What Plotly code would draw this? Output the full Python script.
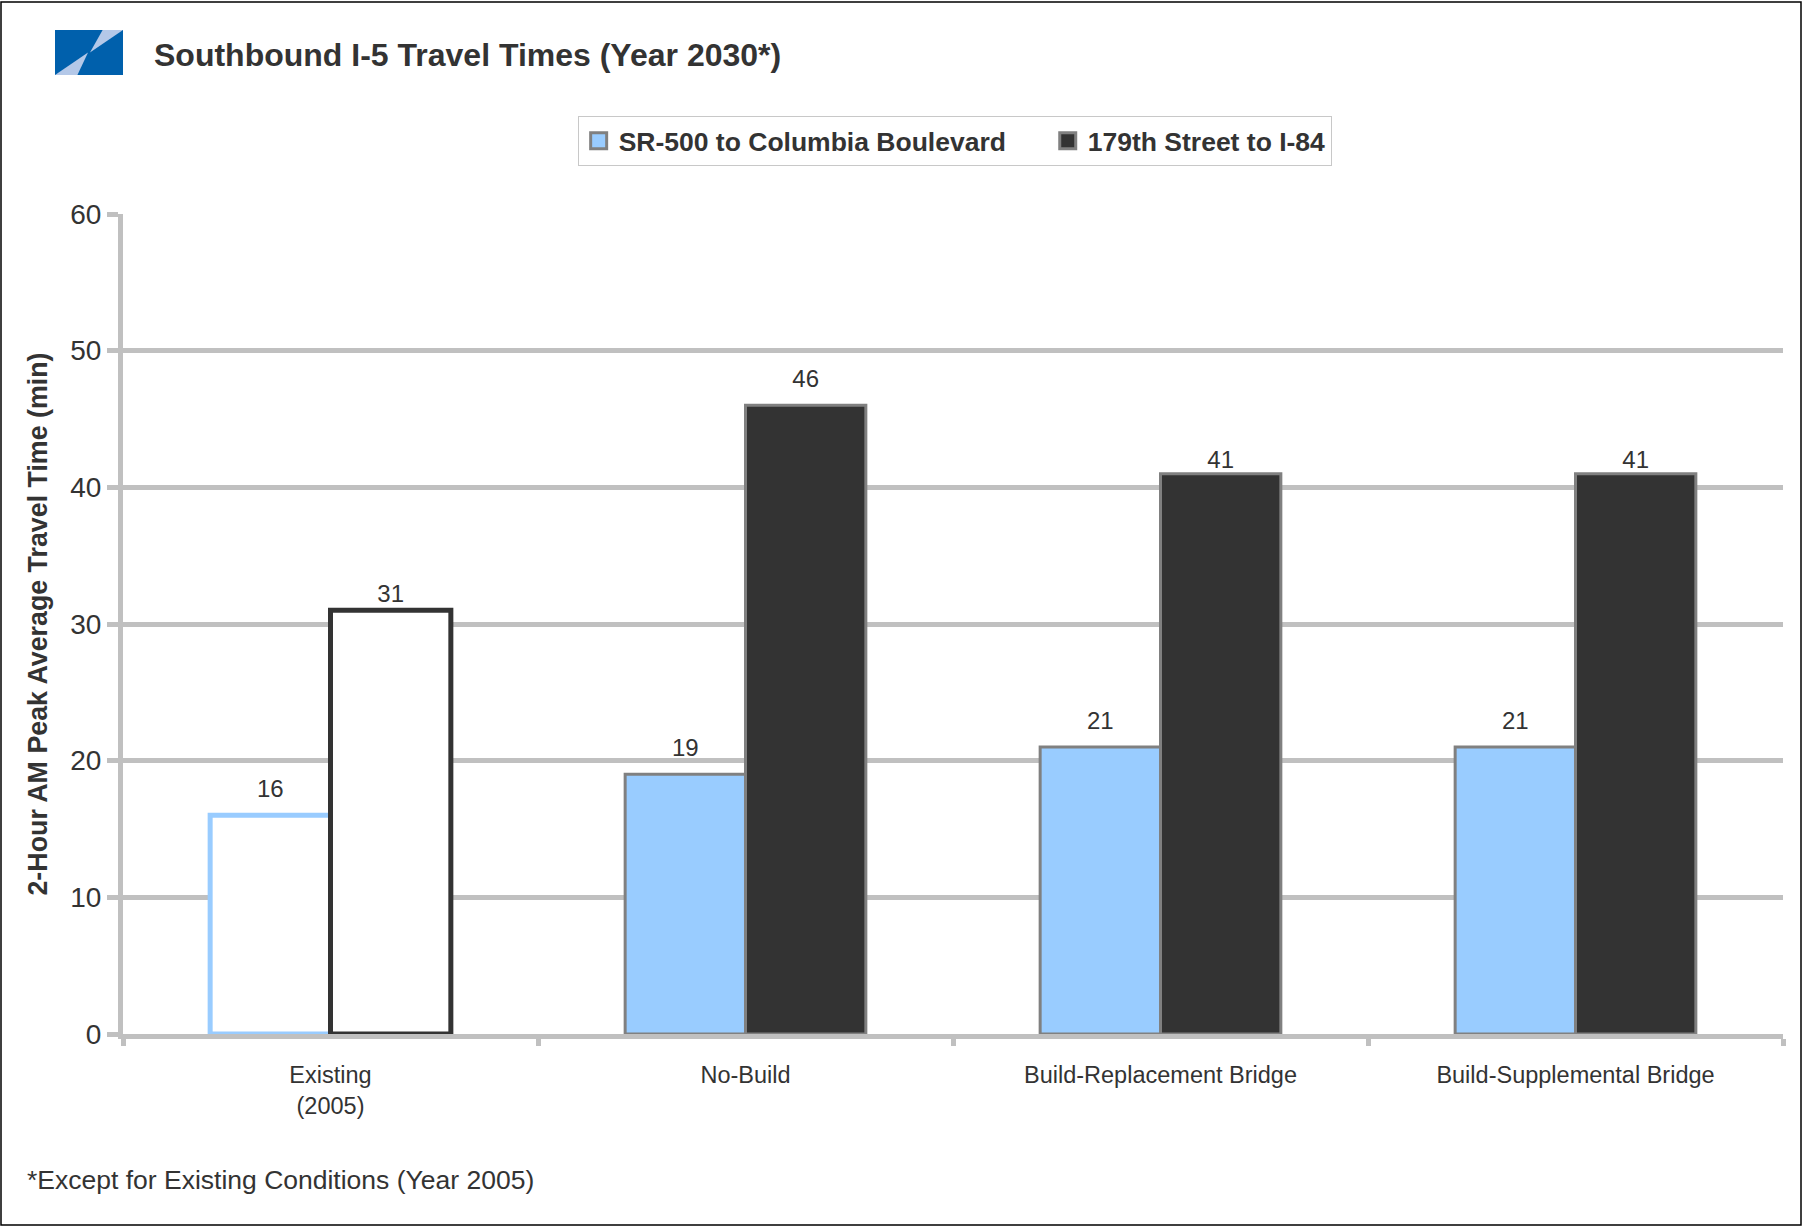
import plotly.graph_objects as go

categories = ["Existing<br>(2005)", "No-Build", "Build-Replacement Bridge", "Build-Supplemental Bridge"]
sr500_to_columbia = [16, 19, 21, 21]
st179_to_i84 = [31, 46, 41, 41]
series_names = ["SR-500 to Columbia Boulevard", "179th Street to I-84"]
y_ticks = [0, 10, 20, 30, 40, 50, 60]

W, H = 1803, 1227
L, R, T, B = 123, 20, 214, 193
PW, PH = W - L - R, H - T - B


def px(x):
    return (x - L) / PW


def py(y):
    return (H - B - y) / PH


SANS = "Liberation Sans, Arial, sans-serif"
TXT = "#333333"
GRID = "#c0c0c0"
BLUE = "#99ccff"
DARK = "#333333"
EDGE = "#808080"
GAP = 0.42
NBSP = "\u00a0"

fig = go.Figure()

series = [
    (sr500_to_columbia, series_names[0] + NBSP * 5, BLUE, "a", [18, 18, 18, 18]),
    (st179_to_i84, series_names[1], DARK, "b", [2, 18, 0, 0]),
]

for vals, name, fill, group, label_pad in series:
    # existing conditions: outline only
    fig.add_trace(go.Bar(x=categories[:1], y=vals[:1], name=name, showlegend=False,
                         offsetgroup=group, hoverinfo="skip",
                         marker=dict(color="white", line=dict(color=fill, width=5))))
    fig.add_trace(go.Bar(x=categories[1:], y=vals[1:], name=name, showlegend=False,
                         offsetgroup=group, hoverinfo="skip",
                         marker=dict(color=fill, line=dict(color=EDGE, width=3))))
    # value labels (grouped scatter aligned with the bars)
    fig.add_trace(go.Scatter(x=categories, y=vals, mode="markers+text", offsetgroup=group,
                             text=[str(v) for v in vals], textposition="top center",
                             textfont=dict(family=SANS, size=24, color=TXT),
                             marker=dict(size=label_pad, opacity=0), showlegend=False,
                             hoverinfo="skip", cliponaxis=False))

# legend entries
for vals, name, fill, group, _ in series:
    fig.add_trace(go.Scatter(x=[categories[0]], y=[None], mode="markers", name=name,
                             offsetgroup=group, hoverinfo="skip",
                             marker=dict(symbol="square", size=16, color=fill,
                                         line=dict(color=EDGE, width=3))))

shapes = [
    dict(type="rect", xref="paper", yref="paper", x0=px(1), x1=px(1801), y0=py(1225), y1=py(2),
         line=dict(color="black", width=1.5), fillcolor="rgba(0,0,0,0)", layer="below"),
    dict(type="rect", xref="paper", yref="paper", x0=px(55), x1=px(123), y0=py(75), y1=py(30),
         line=dict(width=0), fillcolor="#0060ac"),
]
lx0, lx1, ly0, ly1 = 55, 123, 30, 75
lw, lh = lx1 - lx0, ly1 - ly0
cx, cy = lx0 + lw / 2, ly0 + lh / 2
tri_top = [(lx0 + 0.70 * lw, ly0), (lx1, ly0), (cx + 1, cy)]
tri_bot = [(lx0, ly1), (lx0 + 0.33 * lw, ly1), (cx - 1, cy)]
for tri in (tri_top, tri_bot):
    path = "M " + " L ".join(f"{px(a):.5f},{py(b):.5f}" for a, b in tri) + " Z"
    shapes.append(dict(type="path", xref="paper", yref="paper", path=path,
                       line=dict(width=0), fillcolor="#b4c8e8"))

fig.update_layout(
    width=W, height=H,
    margin=dict(l=L, r=R, t=T, b=B),
    paper_bgcolor="white", plot_bgcolor="white",
    barmode="group", bargap=GAP, bargroupgap=0,
    scattermode="group", scattergap=GAP,
    title=dict(text="Southbound I-5 Travel Times (Year 2030*)", x=154 / W, xanchor="left",
               y=1 - 55 / H, yanchor="middle", xref="container", yref="container",
               font=dict(family=SANS, size=32, color=TXT, weight="bold")),
    legend=dict(orientation="h", x=0.501, xanchor="center", y=py(116), yanchor="top",
                bordercolor="#c8c8c8", borderwidth=1, bgcolor="white",
                font=dict(family=SANS, size=26.5, color=TXT, weight="bold"),
                itemclick=False, itemdoubleclick=False),
    xaxis=dict(showline=True, linecolor=GRID, linewidth=5, ticks="outside", tickson="boundaries",
               ticklen=7, tickwidth=5, tickcolor=GRID, showgrid=False, ticklabelstandoff=16,
               tickfont=dict(family=SANS, size=23.5, color=TXT), fixedrange=True),
    yaxis=dict(range=[0, 60], tickvals=y_ticks, showline=True, linecolor=GRID, linewidth=5,
               ticks="outside", ticklen=11, tickwidth=5, tickcolor=GRID,
               showgrid=True, gridcolor=GRID, gridwidth=5, zeroline=False,
               tickfont=dict(family=SANS, size=28, color=TXT), fixedrange=True,
               title=dict(text="2-Hour AM Peak Average Travel Time (min)", standoff=16,
                          font=dict(family=SANS, size=26.8, color=TXT, weight="bold"))),
    shapes=shapes,
    annotations=[dict(text="*Except for Existing Conditions (Year 2005)", xref="paper", yref="paper",
                      x=px(25), y=py(1180), xanchor="left", yanchor="middle", showarrow=False,
                      font=dict(family=SANS, size=26.5, color=TXT))],
)

fig.write_html("out.html")
